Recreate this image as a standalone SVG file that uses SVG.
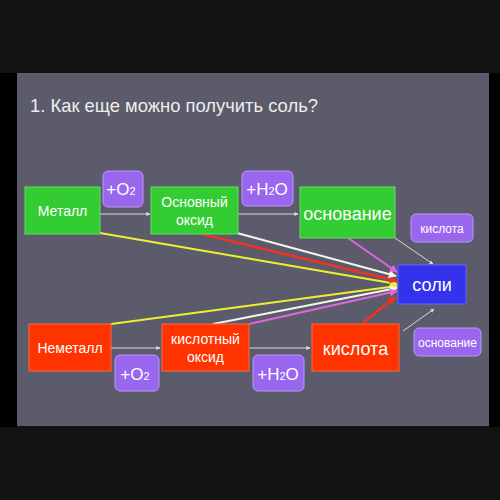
<svg xmlns="http://www.w3.org/2000/svg" width="500" height="500" viewBox="0 0 500 500">
<defs>
<marker id="mg" viewBox="0 0 10 10" refX="9" refY="5" markerWidth="4" markerHeight="4" orient="auto" markerUnits="userSpaceOnUse"><path d="M0,0 L10,5 L0,10 z" fill="#e0e0e0"/></marker>
<marker id="my" viewBox="0 0 10 10" refX="9" refY="5" markerWidth="8" markerHeight="8" orient="auto" markerUnits="userSpaceOnUse"><path d="M0,0 L10,5 L0,10 z" fill="#eeee33"/></marker>
<marker id="mr" viewBox="0 0 10 10" refX="9" refY="5" markerWidth="8" markerHeight="8" orient="auto" markerUnits="userSpaceOnUse"><path d="M0,0 L10,5 L0,10 z" fill="#ee3322"/></marker>
<marker id="mw" viewBox="0 0 10 10" refX="9" refY="5" markerWidth="8" markerHeight="8" orient="auto" markerUnits="userSpaceOnUse"><path d="M0,0 L10,5 L0,10 z" fill="#f4f4ee"/></marker>
<marker id="mp" viewBox="0 0 10 10" refX="9" refY="5" markerWidth="8" markerHeight="8" orient="auto" markerUnits="userSpaceOnUse"><path d="M0,0 L10,5 L0,10 z" fill="#e066e0"/></marker>
</defs>
<style>
text{font-family:"Liberation Sans",Arial,sans-serif;fill:#ffffff;text-anchor:middle}
.green{fill:#33cc33;stroke:#66dd66;stroke-width:1}
.red{fill:#ff3300;stroke:#ff6644;stroke-width:1}
.blue{fill:#3333ee;stroke:#6666ff;stroke-width:1}
.purple{fill:#9966ee;stroke:#bb99ff;stroke-width:1}
.thin{stroke:#d8d8d8;stroke-width:1;fill:none;marker-end:url(#mg)}
.y{stroke:#eeee33;stroke-width:2;fill:none;marker-end:url(#my)}
.r{stroke:#ee3322;stroke-width:2.5;fill:none;marker-end:url(#mr)}
.w{stroke:#f4f4ee;stroke-width:2;fill:none;marker-end:url(#mw)}
.p{stroke:#e066e0;stroke-width:2;fill:none;marker-end:url(#mp)}
.s14{font-size:14px}
.s18{font-size:18px}
.s12{font-size:12px}
.s16{font-size:17px}
</style>
<rect x="0" y="0" width="500" height="500" fill="#121212"/>
<rect x="0" y="73" width="17" height="354" fill="#000"/>
<rect x="489" y="73" width="11" height="354" fill="#000"/>
<rect x="17" y="73" width="472" height="353" fill="#5c5b6b"/>
<text x="30" y="112" style="font-size:18.5px;text-anchor:start;fill:#eeeeee" textLength="288" lengthAdjust="spacingAndGlyphs">1. Как еще можно получить соль?</text>

<g id="connectors">
<line class="thin" x1="100" y1="214" x2="150" y2="214"/>
<line class="thin" x1="238" y1="214" x2="298" y2="214"/>
<line class="thin" x1="111" y1="348" x2="160" y2="348"/>
<line class="thin" x1="249" y1="348" x2="310" y2="348"/>
<line class="thin" x1="395" y1="238" x2="433" y2="264"/>
<line class="thin" x1="403" y1="331" x2="434" y2="309"/>
<line class="y" x1="100" y1="233" x2="397" y2="284"/>
<line class="r" x1="201" y1="234" x2="397" y2="281"/>
<line class="w" x1="237" y1="233" x2="396" y2="276"/>
<line class="p" x1="348" y1="238" x2="397" y2="272"/>
<line class="y" x1="111" y1="324" x2="397" y2="286"/>
<line class="w" x1="213" y1="324" x2="397" y2="288"/>
<line class="p" x1="249" y1="324" x2="397" y2="291"/>
<line class="r" x1="363" y1="323" x2="395" y2="297"/>
</g>

<g id="metal"><rect class="green" x="25" y="187" width="75" height="47"/><text class="s14" x="62.5" y="216">Металл</text></g>
<g id="o2top"><rect class="purple" x="103" y="171" width="40" height="36" rx="5"/><text class="s16" x="121" y="195">+O<tspan style="font-size:11px">2</tspan></text></g>
<g id="basic-oxide"><rect class="green" x="151" y="187" width="87" height="47"/><text class="s14" x="194.5" y="207">Основный</text><text class="s14" x="194.5" y="225">оксид</text></g>
<g id="h2otop"><rect class="purple" x="242" y="171" width="51" height="35" rx="5"/><text class="s16" x="267" y="195">+H<tspan style="font-size:11px">2</tspan>O</text></g>
<g id="base"><rect class="green" x="300" y="187" width="95" height="51"/><text class="s18" x="347.5" y="220">основание</text></g>
<g id="acid-label"><rect class="purple" x="411" y="214" width="62" height="28" rx="5"/><text class="s12" x="442" y="233">кислота</text></g>
<g id="salts"><rect class="blue" x="398" y="265" width="68" height="39"/><text class="s18" x="432" y="291">соли</text></g>
<g id="nonmetal"><rect class="red" x="29" y="324" width="82" height="47"/><text class="s14" x="70" y="353">Неметалл</text></g>
<g id="o2bottom"><rect class="purple" x="115" y="355" width="44" height="36" rx="5"/><text class="s16" x="135" y="380">+O<tspan style="font-size:11px">2</tspan></text></g>
<g id="acid-oxide"><rect class="red" x="162" y="324" width="87" height="47"/><text class="s14" x="205.5" y="344">кислотный</text><text class="s14" x="205.5" y="362">оксид</text></g>
<g id="h2obottom"><rect class="purple" x="253" y="355" width="51" height="36" rx="5"/><text class="s16" x="278" y="380">+H<tspan style="font-size:11px">2</tspan>O</text></g>
<g id="acid"><rect class="red" x="312" y="324" width="87" height="47"/><text class="s18" x="355.5" y="355">кислота</text></g>
<g id="base-label"><rect class="purple" x="414" y="328" width="67" height="28" rx="5"/><text class="s12" x="447.5" y="347">основание</text></g>
</svg>
